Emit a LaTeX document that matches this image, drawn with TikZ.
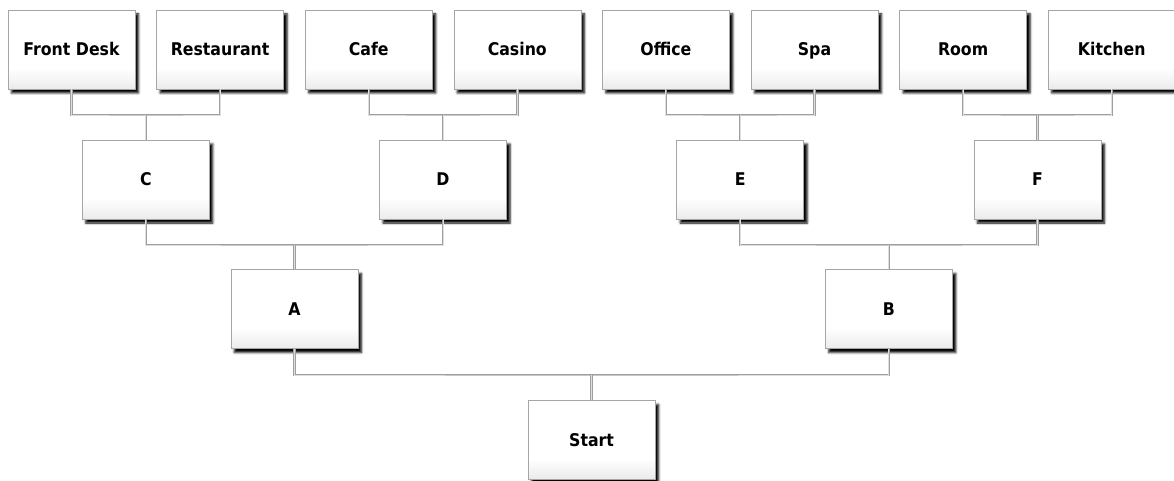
\documentclass[tikz,border=0pt]{standalone}
\usepackage{fontspec}
\newfontfamily\boxfont{DejaVu Sans Condensed}[BoldFont={DejaVu Sans Condensed Bold}]
\usetikzlibrary{shadows.blur}
\pgfdeclareverticalshading{boxshade}{100bp}{color(0bp)=(gray!16); color(25bp)=(gray!16); color(38bp)=(white); color(100bp)=(white)}
\tikzset{
  orgbox/.style={draw=gray!70, line width=0.6pt, minimum width=127pt, minimum height=79pt,
    inner sep=0pt, text height=14pt, text depth=1.2pt, shading=boxshade,
    blur shadow={shadow xshift=3.5pt, shadow yshift=-4pt, shadow blur radius=2.2pt, shadow opacity=100},
    font=\boxfont\bfseries\fontsize{17.5}{20}\selectfont, text=black},
  link/.style={draw=gray!75, line width=0.75pt, double=gray!25, double distance=0.9pt}
}
\begin{document}
\begin{tikzpicture}[x=1pt,y=-1pt]
\useasboundingbox (0,0) rectangle (1174,481);
% junction coordinates
\coordinate (jC) at (145.8,115);
\coordinate (jD) at (443,115);
\coordinate (jE) at (740.2,115);
\coordinate (jF) at (1037.4,115);
\coordinate (jA) at (294.4,245);
\coordinate (jB) at (888.8,245);
\coordinate (jS) at (591.6,375);
% nodes
\node[orgbox] (fd) at (71.5,49.5) {Front Desk};
\node[orgbox] (rs) at (220.1,49.5) {Restaurant};
\node[orgbox] (cf) at (368.7,49.5) {Cafe};
\node[orgbox] (cs) at (517.3,49.5) {Casino};
\node[orgbox] (of) at (665.9,49.5) {Office};
\node[orgbox] (sp) at (814.5,49.5) {Spa};
\node[orgbox] (rm) at (963.1,49.5) {Room};
\node[orgbox] (kt) at (1111.7,49.5) {Kitchen};
\node[orgbox] (c) at (145.8,179.5) {C};
\node[orgbox] (d) at (443,179.5) {D};
\node[orgbox] (e) at (740.2,179.5) {E};
\node[orgbox] (f) at (1037.4,179.5) {F};
\node[orgbox] (a) at (294.4,309) {A};
\node[orgbox] (b) at (888.8,309) {B};
\node[orgbox] (st) at (591.6,440) {Start};
% connectors
\draw[link] (fd.south) |- (jC) -| (rs.south);
\draw[link] (jC) -- (c.north);
\draw[link] (cf.south) |- (jD) -| (cs.south);
\draw[link] (jD) -- (d.north);
\draw[link] (of.south) |- (jE) -| (sp.south);
\draw[link] (jE) -- (e.north);
\draw[link] (rm.south) |- (jF) -| (kt.south);
\draw[link] (jF) -- (f.north);
\draw[link] (c.south) |- (jA) -| (d.south);
\draw[link] (jA) -- (a.north);
\draw[link] (e.south) |- (jB) -| (f.south);
\draw[link] (jB) -- (b.north);
\draw[link] (a.south) |- (jS) -| (b.south);
\draw[link] (jS) -- (st.north);
\end{tikzpicture}
\end{document}
